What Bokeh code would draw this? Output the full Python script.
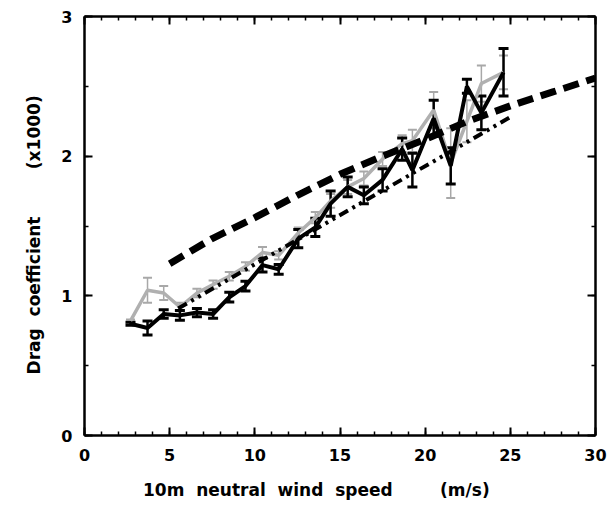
from bokeh.plotting import figure
from bokeh.models import (LinearAxis, Range1d, Whisker, TeeHead, ColumnDataSource,
                          FixedTicker, CustomLabelingPolicy)
from bokeh.embed import file_html
from bokeh.resources import INLINE

# ---- data ----
wind = [2.7, 3.7, 4.65, 5.6, 6.6, 7.55, 8.5, 9.45, 10.45, 11.4, 12.55, 13.55,
        14.45, 15.45, 16.4, 17.5, 18.65, 19.25, 20.5, 21.5, 22.45, 23.3, 24.6]
cd_black = [0.80, 0.77, 0.87, 0.86, 0.88, 0.87, 0.99, 1.07, 1.22, 1.19, 1.41, 1.49,
            1.66, 1.78, 1.72, 1.83, 2.05, 1.90, 2.27, 1.93, 2.50, 2.31, 2.60]
err_black = [0.01, 0.05, 0.03, 0.035, 0.03, 0.03, 0.035, 0.035, 0.05, 0.035, 0.065, 0.065,
             0.09, 0.07, 0.06, 0.08, 0.08, 0.12, 0.13, 0.13, 0.05, 0.12, 0.17]
cd_grey = [0.82, 1.04, 1.02, 0.92, 1.02, 1.08, 1.14, 1.21, 1.31, 1.29, 1.45, 1.56,
           1.68, 1.78, 1.84, 1.98, 2.09, 2.11, 2.33, 1.95, 2.25, 2.52, 2.60]
err_grey = [0.01, 0.09, 0.05, 0.03, 0.03, 0.03, 0.03, 0.03, 0.04, 0.03, 0.04, 0.04,
            0.05, 0.05, 0.05, 0.05, 0.06, 0.08, 0.13, 0.25, 0.15, 0.13, 0.12]

dash_x = [5, 7.5, 10, 12.5, 15, 17.5, 20, 22.5, 25, 27.5, 30]
dash_y = [1.23, 1.41, 1.56, 1.72, 1.87, 2.00, 2.12, 2.25, 2.36, 2.46, 2.56]

dashdot_x = [5.5, 25.0]
dashdot_y = [0.91, 2.28]

x_ticks = [0, 5, 10, 15, 20, 25, 30]
y_ticks = [0, 1, 2, 3]

FONT = "DejaVu Sans"

p = figure(width=610, height=505, x_range=Range1d(0, 30), y_range=Range1d(0, 3),
           output_backend="svg", toolbar_location=None,
           min_border_left=84, min_border_right=15, min_border_top=16,
           min_border_bottom=70)
p.grid.visible = False
p.outline_line_color = None
p.background_fill_color = "white"
p.border_fill_color = "white"

bottom = p.xaxis[0]
left = p.yaxis[0]

xt = FixedTicker(ticks=x_ticks, minor_ticks=list(range(0, 31)))
yt = FixedTicker(ticks=y_ticks, minor_ticks=[i * 0.5 for i in range(0, 7)])
bottom.ticker = xt
left.ticker = yt

no_labels = CustomLabelingPolicy(code="""
    for (const i of indices) { indices.unset(i) }
    return indices
""")
top = LinearAxis(ticker=xt, major_label_policy=no_labels)
right = LinearAxis(ticker=yt, major_label_policy=no_labels)
p.add_layout(top, "above")
p.add_layout(right, "right")

for ax in [bottom, left, top, right]:
    ax.axis_line_width = 2.5
    ax.axis_line_color = "black"
    ax.major_tick_in = 8
    ax.major_tick_out = 0
    ax.minor_tick_in = 4
    ax.minor_tick_out = 0
    ax.major_tick_line_width = 2
    ax.minor_tick_line_width = 1.5
    ax.major_label_text_font = FONT
    ax.major_label_text_font_style = "bold"
    ax.major_label_text_font_size = "16px"
    ax.major_label_text_color = "black"

for ax in [top, right]:
    ax.major_label_text_font_size = "1px"
    ax.major_label_standoff = 0

bottom.major_label_standoff = 13
left.major_label_standoff = 12

nb = "\u00a0"
bottom.axis_label = ("10m" + nb * 2 + "neutral" + nb * 2 + "wind" + nb * 2 + "speed"
                     + nb * 8 + "(m/s)" + nb * 8)
left.axis_label = "Drag" + nb * 2 + "coefficient" + nb * 8 + "(x1000)" + nb * 3
for ax in [bottom, left]:
    ax.axis_label_text_font = FONT
    ax.axis_label_text_font_style = "bold"
    ax.axis_label_text_font_size = "17px"
    ax.axis_label_text_color = "black"
bottom.axis_label_standoff = 16
left.axis_label_standoff = 14

# grey series
lo_g = [v - e for v, e in zip(cd_grey, err_grey)]
hi_g = [v + e for v, e in zip(cd_grey, err_grey)]
src_g = ColumnDataSource(dict(x=wind, y=cd_grey, lo=lo_g, hi=hi_g))
p.line("x", "y", source=src_g, line_color="#b0b0b0", line_width=3.5)
p.add_layout(Whisker(source=src_g, base="x", lower="lo", upper="hi",
                     line_color="#a8a8a8", line_width=1.5,
                     upper_head=TeeHead(size=9, line_color="#a8a8a8", line_width=2),
                     lower_head=TeeHead(size=9, line_color="#a8a8a8", line_width=2)))

# reference curves
p.line(dash_x, dash_y, line_color="black", line_width=7, line_dash="16 8")
p.line(dashdot_x, dashdot_y, line_color="black", line_width=4, line_dash="10 5 3 5 3 5")

# black series
lo_b = [v - e for v, e in zip(cd_black, err_black)]
hi_b = [v + e for v, e in zip(cd_black, err_black)]
src_b = ColumnDataSource(dict(x=wind, y=cd_black, lo=lo_b, hi=hi_b))
p.line("x", "y", source=src_b, line_color="black", line_width=4)
p.add_layout(Whisker(source=src_b, base="x", lower="lo", upper="hi",
                     line_color="black", line_width=2.5,
                     upper_head=TeeHead(size=10, line_color="black", line_width=3),
                     lower_head=TeeHead(size=10, line_color="black", line_width=3)))

open("out.html", "w").write(file_html(p, INLINE))
